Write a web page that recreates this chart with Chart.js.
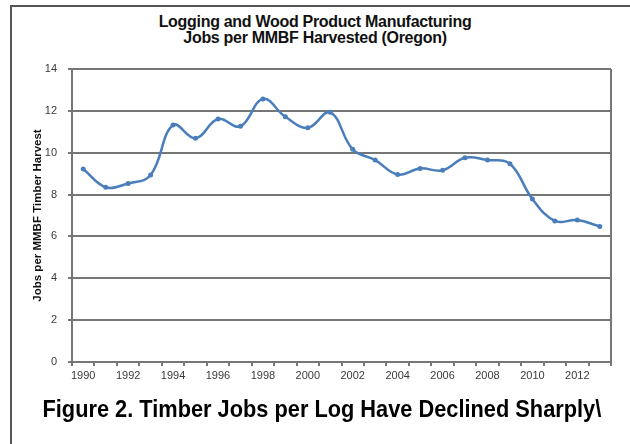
<!DOCTYPE html>
<html>
<head>
<meta charset="utf-8">
<script src="https://cdn.jsdelivr.net/npm/chart.js@4.4.0/dist/chart.umd.min.js"></script>
<style>
  html, body { margin: 0; padding: 0; background: #fff; }
  #wrap { position: relative; width: 630px; height: 444px; overflow: hidden; }
  #frame { position: absolute; left: 10px; top: 5px; right: -4px; bottom: -4px;
           border-left: 2px solid #555; border-top: 2px solid #555; }
  .titre { position: absolute; left: 0; width: 630px; text-align: center;
           font: bold 16px "Liberation Sans", Arial, sans-serif; color: #111; letter-spacing: -0.3px; }
  #legenda { position: absolute; left: 322px; top: 395px; white-space: nowrap;
             font: bold 24px "Liberation Sans", Arial, sans-serif; color: #000;
             transform-origin: 0 0; }
  canvas { position: absolute; left: 0; top: 0; }
</style>
</head>
<body>
<div id="wrap">
  <div id="frame"></div>
  <div class="titre" style="top:13px">Logging and Wood Product Manufacturing</div>
  <div class="titre" style="top:29px">Jobs per MMBF Harvested (Oregon)</div>
  <canvas id="grafico" width="630" height="444"></canvas>
  <span id="legenda">Figure 2. Timber Jobs per Log Have Declined Sharply\</span>
</div>
<script>
const anos = ['1990','1991','1992','1993','1994','1995','1996','1997','1998','1999','2000','2001',
              '2002','2003','2004','2005','2006','2007','2008','2009','2010','2011','2012','2013'];
const empregos = [9.22, 8.35, 8.53, 8.93, 11.32, 10.69, 11.61, 11.26, 12.57, 11.72, 11.19, 11.93,
                  10.16, 9.65, 8.96, 9.25, 9.16, 9.76, 9.65, 9.47, 7.79, 6.74, 6.78, 6.48];
const marcas_y = [0, 2, 4, 6, 8, 10, 12, 14];

const cor_linha = '#4a7ebb';
const cor_grade = '#767676';
const fonte = '"Liberation Sans", Arial, sans-serif';

// legenda estreita (sem fonte narrow instalada)
const leg = document.getElementById('legenda');
const escala = 559 / leg.offsetWidth;
leg.style.transform = 'translateX(' + (-559 / 2) + 'px) scaleX(' + escala + ')';

// borda direita da area do grafico
const bordaDireita = {
    id: 'bordaDireita',
    afterDraw(chart){
        const a = chart.chartArea;
        const ctx = chart.ctx;
        ctx.save();
        ctx.strokeStyle = cor_grade;
        ctx.lineWidth = 2;
        ctx.beginPath();
        ctx.moveTo(a.right, a.top);
        ctx.lineTo(a.right, a.bottom);
        ctx.stroke();
        ctx.restore();
    }
};

new Chart(document.getElementById('grafico'), {
    type: 'line',
    data: {
        labels: anos,
        datasets: [{
            data: empregos,
            borderColor: cor_linha,
            backgroundColor: cor_linha,
            borderWidth: 2.5,
            pointRadius: 2.5,
            pointBorderWidth: 0,
            tension: 0.4
        }]
    },
    options: {
        responsive: false,
        animation: false,
        devicePixelRatio: 1,
        layout: { padding: { left: 11, top: 69, right: 19, bottom: 52 } },
        plugins: { legend: { display: false }, tooltip: { enabled: false } },
        scales: {
            x: {
                offset: true,
                afterFit(s){ s.height = 30; },
                grid: { offset: true, drawOnChartArea: false, tickLength: 4, color: cor_grade, lineWidth: 2 },
                border: { color: cor_grade, width: 2 },
                ticks: {
                    autoSkip: false, maxRotation: 0, padding: 3,
                    color: '#3a3a3a', font: { family: fonte, size: 11 },
                    callback(v, i){ return i % 2 == 0 ? anos[i] : ''; }
                }
            },
            y: {
                min: 0, max: 14,
                afterFit(s){ s.width = 61; },
                afterBuildTicks(s){ s.ticks = marcas_y.map(v => ({ value: v })); },
                grid: { color: cor_grade, lineWidth: 2, tickLength: 4 },
                border: { color: cor_grade, width: 2 },
                ticks: { padding: 11, color: '#3a3a3a', font: { family: fonte, size: 11 } },
                title: {
                    display: true,
                    text: 'Jobs per MMBF Timber Harvest',
                    color: '#111',
                    font: { family: fonte, size: 11.5, weight: 'bold' },
                    padding: { top: 20, bottom: 0 }
                }
            }
        }
    },
    plugins: [bordaDireita]
});
</script>
</body>
</html>
